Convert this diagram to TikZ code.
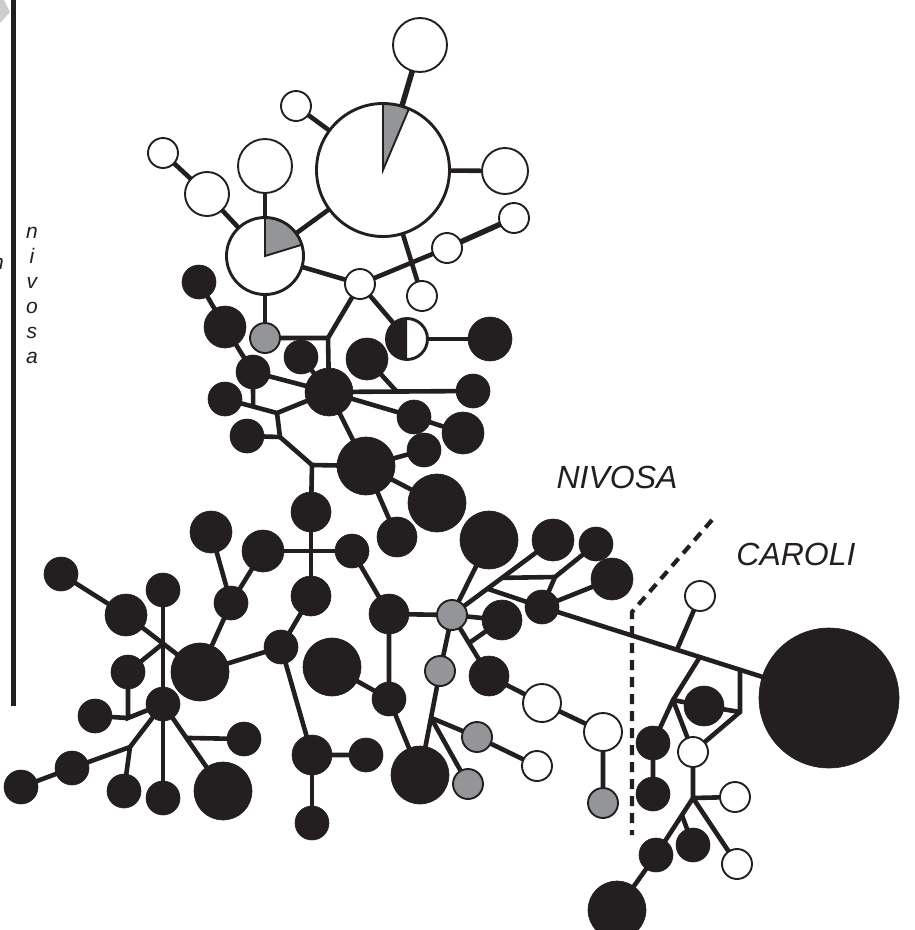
\documentclass[tikz,border=0pt]{standalone}
\usepackage{fontspec}
\setmainfont{Liberation Sans}
\usetikzlibrary{calc}
\definecolor{nblack}{RGB}{35,31,32}
\definecolor{ngrey}{RGB}{147,149,152}
\definecolor{lgrey}{RGB}{205,205,205}
\pgfdeclarelayer{bg}
\pgfsetlayers{bg,main}
\begin{document}
\begin{tikzpicture}[x=1pt,y=-1pt,
  blk/.style={circle,fill=nblack,draw=nblack,line width=0.6pt,inner sep=0pt,minimum size=#1},
  wht/.style={circle,fill=white,draw=nblack,line width=1.9pt,inner sep=0pt,minimum size=#1},
  gry/.style={circle,fill=ngrey,draw=nblack,line width=1.9pt,inner sep=0pt,minimum size=#1},
  edge/.style={line width=4.6pt,draw=nblack},
  lab/.style={font=\fontsize{32}{38}\selectfont\itshape,text=nblack,inner sep=0pt},
  vlet/.style={font=\fontsize{21}{24}\selectfont\itshape,text=nblack,inner sep=0pt,anchor=base}]
\useasboundingbox (0,0) rectangle (915,930);
% frame fragments
\fill[lgrey] (0,0) -- (4,0) -- (10,12) -- (0,23) -- cycle;
\coordinate (vtop) at (13,0);
\coordinate (vbot) at (13,706);
\draw[line width=5pt,nblack] (vtop) -- (vbot);
\node[vlet,anchor=base east] (cut) at (4,269) {n};
\node[vlet] (l1) at (32,238) {n};
\node[vlet] (l2) at (32,263) {i};
\node[vlet] (l3) at (32,288) {v};
\node[vlet] (l4) at (32,313) {o};
\node[vlet] (l5) at (32,338) {s};
\node[vlet] (l6) at (32,363) {a};
\node[lab] (nivosa) at (617,477) {NIVOSA};
\node[lab] (caroli) at (796,554) {CAROLI};
% top cluster
\node[wht=134pt] (P1) at (383,170) {};
\node[wht=78pt] (P2) at (265,256) {};
\node[wht=54pt] (wT) at (420,45) {};
\node[wht=30pt] (wA) at (296,106) {};
\node[wht=46pt] (wB) at (505,171) {};
\node[wht=54pt] (wC) at (265,166) {};
\node[wht=44pt] (wD) at (207,194) {};
\node[wht=30pt] (wE) at (163,153) {};
\node[wht=30pt] (wF) at (360,284) {};
\node[wht=30pt] (wG) at (447,248) {};
\node[wht=30pt] (wH) at (514,218) {};
\node[wht=30pt] (wI) at (422,296) {};
\node[gry=30pt] (g1) at (265,338) {};
\node[wht=42pt] (h1) at (407,339) {};
\node[blk=44pt] (b1) at (490,339) {};
\node[blk=34pt] (b2) at (199,282) {};
\node[blk=42pt] (b3) at (225,327) {};
\node[blk=34pt] (b4) at (253,372) {};
\node[blk=34pt] (b5) at (301,357) {};
\node[blk=48pt] (B6) at (329,392) {};
\node[blk=34pt] (b7) at (225,399) {};
\node[blk=34pt] (b8) at (247,436) {};
\node[blk=58pt] (B9) at (366,466) {};
\node[blk=42pt] (b10) at (367,359) {};
\node[blk=34pt] (b11) at (473,391) {};
\node[blk=34pt] (b12) at (414,417) {};
\node[blk=42pt] (b13) at (463,433) {};
\node[blk=34pt] (b14) at (424,450) {};
\node[blk=58pt] (B15) at (437,503) {};
\node[blk=40pt] (b16) at (397,537) {};
\node[blk=40pt] (b17) at (311,512) {};
\node[blk=42pt] (b18) at (211,532) {};
\node[blk=42pt] (b19) at (263,551) {};
\node[blk=34pt] (b20) at (352,551) {};
\node[blk=58pt] (B21) at (489,540) {};
\node[blk=42pt] (b22) at (553,540) {};
\node[blk=34pt] (b23) at (596,544) {};
\node[blk=42pt] (b24) at (612,579) {};
\node[blk=34pt] (b25) at (542,607) {};
\node[gry=30pt] (g2) at (452,615) {};
\node[blk=40pt] (b26) at (502,620) {};
\node[blk=40pt] (b27) at (389,614) {};
\node[blk=40pt] (b28) at (311,596) {};
\node[blk=34pt] (b29) at (281,647) {};
\node[blk=58pt] (B30) at (332,667) {};
\node[gry=30pt] (g3) at (440,671) {};
\node[blk=34pt] (b31) at (389,699) {};
\node[blk=40pt] (b32) at (489,676) {};
\node[wht=38pt] (w1) at (542,703) {};
\node[wht=38pt] (w2) at (603,732) {};
\node[gry=30pt] (g4) at (603,803) {};
\node[gry=30pt] (g5) at (477,737) {};
\node[wht=30pt] (w3) at (537,766) {};
\node[gry=30pt] (g6) at (468,784) {};
\node[blk=58pt] (B33) at (420,775) {};
\node[blk=40pt] (b34) at (312,755) {};
\node[blk=34pt] (b35) at (366,755) {};
\node[blk=34pt] (b36) at (312,823) {};
% left cluster
\node[blk=34pt] (b37) at (61,574) {};
\node[blk=42pt] (b38) at (126,615) {};
\node[blk=34pt] (b39) at (163,590) {};
\node[blk=34pt] (b40) at (128,672) {};
\node[blk=58pt] (B41) at (200,672) {};
\node[blk=34pt] (b42) at (163,704) {};
\node[blk=34pt] (b43) at (95,716) {};
\node[blk=34pt] (b44) at (72,768) {};
\node[blk=34pt] (b45) at (21,787) {};
\node[blk=34pt] (b46) at (124,791) {};
\node[blk=34pt] (b47) at (163,798) {};
\node[blk=58pt] (B48) at (223,791) {};
\node[blk=34pt] (b49) at (244,739) {};
\node[blk=34pt] (b50) at (231,603) {};
% right cluster
\node[wht=30pt] (w4) at (700,596) {};
\node[blk=140pt] (B51) at (829,698) {};
\node[blk=40pt] (b52) at (704,706) {};
\node[blk=34pt] (b53) at (653,743) {};
\node[blk=34pt] (b54) at (653,794) {};
\node[wht=30pt] (w5) at (693,752) {};
\node[wht=30pt] (w6) at (735,797) {};
\node[blk=34pt] (b55) at (693,845) {};
\node[wht=30pt] (w7) at (737,864) {};
\node[blk=34pt] (b56) at (656,855) {};
\node[blk=58pt] (B57) at (617,910) {};
% pies and half circle
\fill[ngrey] (P1.center) -- ++(90:66pt) arc[start angle=90,end angle=67,radius=66pt] -- cycle;
\draw[nblack,line width=1.9pt,line join=miter] ($(P1.center)+(90:66pt)$) -- (P1.center) -- ++(67:66pt);
\draw[nblack,line width=1.9pt] (P1.center) circle[radius=66pt];
\fill[ngrey] (P2.center) -- ++(90:38pt) arc[start angle=90,end angle=17,radius=38pt] -- cycle;
\draw[nblack,line width=1.9pt,line join=miter] ($(P2.center)+(90:38pt)$) -- (P2.center) -- ++(17:38pt);
\draw[nblack,line width=1.9pt] (P2.center) circle[radius=38pt];
\fill[nblack] (h1.center) -- ++(90:20pt) arc[start angle=90,end angle=270,radius=20pt] -- cycle;
\draw[nblack,line width=1.9pt] (h1.center) circle[radius=20pt];
% junctions
\coordinate (J1) at (328,338);
\coordinate (J2) at (277,413);
\coordinate (Pj) at ($(b7.center)!0.54!(J2)$);
\coordinate (J3) at (280,437);
\coordinate (J4) at (312,465);
\coordinate (J5) at ($(B6.center)!0.47!(b11.center)$);
\coordinate (J6) at ($(b38.center)!0.5!(B41.center)$);
\coordinate (J7) at (128,718);
\coordinate (J8) at (130,747);
\coordinate (J9) at ($(b42.center)!0.39!(B48.center)$);
\coordinate (K1) at ($(b25.center)!0.47!(B51.center)$);
\coordinate (K2) at ($(b25.center)!0.55!(B51.center)$);
\coordinate (K3) at (673,700);
\coordinate (K4) at ($(b25.center)!0.69!(B51.center)$);
\coordinate (K5) at (740,712);
\coordinate (K6) at (693,798);
\coordinate (K7) at ($(K6)!0.3!(b56.center)$);
\coordinate (K8) at ($(g2.center)!0.495!(b22.center)$);
\coordinate (K9) at (555,577);
\coordinate (K10) at ($(g2.center)!0.35!(b22.center)$);
\coordinate (K11) at ($(g2.center)!0.46!(b32.center)$);
\coordinate (K12) at ($(g3.center)!0.45!(B33.center)$);
\coordinate (d1) at (712,520);
\coordinate (d2) at (632,612);
\coordinate (d3) at (632,835);
\draw[nblack,line width=4.2pt,dash pattern=on 10pt off 7pt] (d1) -- (d2) -- (d3);
\begin{pgfonlayer}{bg}
\draw[edge,line width=5.5pt] (P1.center) -- (wT.center);
\draw[edge] (P1.center) -- (wA.center);
\draw[edge] (P1.center) -- (wB.center);
\draw[edge] (P1.center) -- (P2.center);
\draw[edge] (P1.center) -- (wI.center);
\draw[edge] (wF.center) -- (wG.center);
\draw[edge,line width=5.5pt] (wG.center) -- (wH.center);
\draw[edge] (P2.center) -- (wC.center);
\draw[edge] (P2.center) -- (wD.center);
\draw[edge] (wD.center) -- (wE.center);
\draw[edge] (P2.center) -- (wF.center);
\draw[edge] (P2.center) -- (g1.center);
\draw[edge] (wF.center) -- (h1.center);
\draw[edge] (h1.center) -- (b1.center);
\draw[edge] (g1.center) -- (J1) -- (wF.center);
\draw[edge] (J1) -- (B6.center);
\draw[edge] (b2.center) -- (b3.center) -- (b4.center) -- (B6.center);
\draw[edge] (b5.center) -- (B6.center);
\draw[edge] (b4.center) -- (Pj);
\draw[edge] (b7.center) -- (J2) -- (B6.center);
\draw[edge] (J2) -- (J3) -- (J4) -- (B9.center);
\draw[edge] (b8.center) -- (J3);
\draw[edge] (J4) -- (b17.center);
\draw[edge] (B6.center) -- (b11.center);
\draw[edge] (b10.center) -- (J5);
\draw[edge] (B6.center) -- (b12.center) -- (b13.center);
\draw[edge] (B6.center) -- (B9.center);
\draw[edge] (B9.center) -- (b14.center);
\draw[edge] (B9.center) -- (B15.center);
\draw[edge] (B9.center) -- (b16.center);
\draw[edge] (b17.center) -- (b28.center);
\draw[edge] (b19.center) -- (b20.center);
\draw[edge] (b18.center) -- (b50.center) -- (B41.center);
\draw[edge] (b50.center) -- (b19.center);
\draw[edge] (B41.center) -- (b29.center) -- (b28.center);
\draw[edge] (b29.center) -- (b34.center) -- (b35.center);
\draw[edge] (b34.center) -- (b36.center);
\draw[edge] (b20.center) -- (b27.center) -- (g2.center);
\draw[edge] (b27.center) -- (b31.center) -- (B33.center);
\draw[edge] (B30.center) -- (b31.center);
\draw[edge] (g2.center) -- (B21.center);
\draw[edge] (g2.center) -- (b22.center);
\draw[edge] (K8) -- (K9) -- (b23.center);
\draw[edge] (K9) -- (b25.center);
\draw[edge] (K10) -- (b25.center);
\draw[edge] (b25.center) -- (b24.center);
\draw[edge] (g2.center) -- (b26.center);
\draw[edge] (g2.center) -- (b32.center);
\draw[edge] (K11) -- (b26.center);
\draw[edge] (g2.center) -- (g3.center) -- (B33.center);
\draw[edge] (K12) -- (g5.center) -- (w3.center);
\draw[edge] (K12) -- (g6.center);
\draw[edge] (b32.center) -- (w1.center) -- (w2.center) -- (g4.center);
\draw[edge] (b25.center) -- (B51.center);
\draw[edge] (K1) -- (w4.center);
\draw[edge] (K2) -- (K3) -- (b53.center) -- (b54.center);
\draw[edge] (K3) -- (b52.center);
\draw[edge] (K3) -- (w5.center);
\draw[edge] (K4) -- (K5) -- (w5.center);
\draw[edge] (b52.center) -- (K5);
\draw[edge] (w5.center) -- (K6) -- (w6.center);
\draw[edge] (K6) -- (w7.center);
\draw[edge] (K6) -- (b56.center) -- (B57.center);
\draw[edge] (K7) -- (b55.center);
\draw[edge] (b37.center) -- (b38.center) -- (B41.center);
\draw[edge] (b39.center) -- (b47.center);
\draw[edge] (b40.center) -- (J6);
\draw[edge] (b40.center) -- (J7) -- (b42.center);
\draw[edge] (b43.center) -- (J7);
\draw[edge] (b42.center) -- (J8) -- (b44.center) -- (b45.center);
\draw[edge] (J8) -- (b46.center);
\draw[edge] (b42.center) -- (B48.center);
\draw[edge] (J9) -- (b49.center);
\end{pgfonlayer}
\end{tikzpicture}
\end{document}
